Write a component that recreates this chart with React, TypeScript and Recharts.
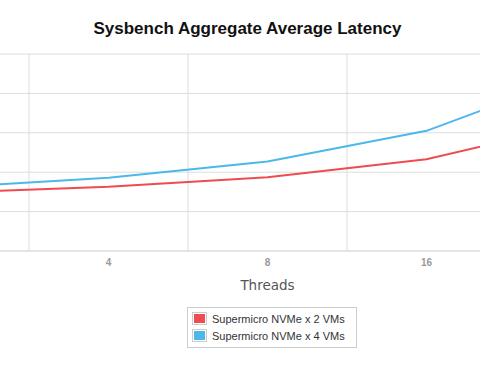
import { LineChart, Line, XAxis, YAxis, CartesianGrid, Legend } from 'recharts';

// thread counts; the first and last sit just outside the visible crop
const threads = ['2', '4', '8', '16', '32'];
const shownTicks = ['4', '8', '16'];
const twoVms = [14.8, 16.3, 18.7, 23.3, 32.7];
const fourVms = [16.2, 18.6, 22.7, 30.5, 45.5];
const seriesNames = ['Supermicro NVMe x 2 VMs', 'Supermicro NVMe x 4 VMs'];
const seriesColors = ['#ef4b50', '#4cb8ea'];
const yTicks = [0, 10, 20, 30, 40, 50];

const data = threads.map((t, i) => ({ x: i, threads: t, a: twoVms[i], b: fourVms[i] }));
const bounds = threads.slice(1).map((_, i) => i + 0.5);

const FONT = 'Helvetica, Arial, "Liberation Sans", sans-serif';

function LegendBox() {
  return (
    <div style={{ border: '1px solid #ccc', padding: '2px 11px 3px 4px', background: '#fff', fontFamily: FONT, fontSize: 11, color: '#333' }}>
      {seriesNames.map((name, i) => (
        <div key={name} style={{ display: 'flex', alignItems: 'center', height: 17 }}>
          <span style={{ display: 'inline-block', border: '1px solid #ccc', padding: 1, marginRight: 5 }}>
            <span style={{ display: 'block', width: 11, height: 9, background: seriesColors[i] }} />
          </span>
          {name}
        </div>
      ))}
    </div>
  );
}

export default function App() {
  return (
    <div style={{ position: 'absolute', left: 0, top: 0, width: 480, height: 377, overflow: 'hidden', background: '#fff' }}>
      <div style={{ position: 'absolute', left: 0, top: 19, width: 495, textAlign: 'center', fontFamily: FONT, fontWeight: 'bold', fontSize: 17, color: '#111' }}>
        Sysbench Aggregate Average Latency
      </div>
      <div style={{ position: 'absolute', left: -130.5, top: 0 }}>
        <LineChart width={795} height={377} data={data} margin={{ top: 54, right: 0, left: 0, bottom: 82 }}>
          <CartesianGrid stroke="#ddd" verticalValues={bounds} />
          <XAxis
            dataKey="x"
            type="number"
            domain={[-0.5, threads.length - 0.5]}
            ticks={shownTicks.map((t) => threads.indexOf(t))}
            tickFormatter={(i: number) => threads[i]}
            height={44}
            axisLine={{ stroke: '#ddd' }}
            tickLine={false}
            tick={{ fontSize: 10, fill: '#999', fontWeight: 'bold', fontFamily: FONT }}
            label={{ value: 'Threads', position: 'insideBottom', offset: 5, fontSize: 13.5, fill: '#555', fontFamily: '"DejaVu Sans", sans-serif' }}
          />
          <YAxis hide domain={[0, 50]} ticks={yTicks} />
          <Legend
            layout="vertical"
            align="center"
            verticalAlign="middle"
            wrapperStyle={{ left: 317.5, top: 307, width: 'auto' }}
            content={() => <LegendBox />}
          />
          <Line type="linear" dataKey="a" name={seriesNames[0]} stroke={seriesColors[0]} strokeWidth={2} dot={false} isAnimationActive={false} />
          <Line type="linear" dataKey="b" name={seriesNames[1]} stroke={seriesColors[1]} strokeWidth={2} dot={false} isAnimationActive={false} />
        </LineChart>
      </div>
    </div>
  );
}
